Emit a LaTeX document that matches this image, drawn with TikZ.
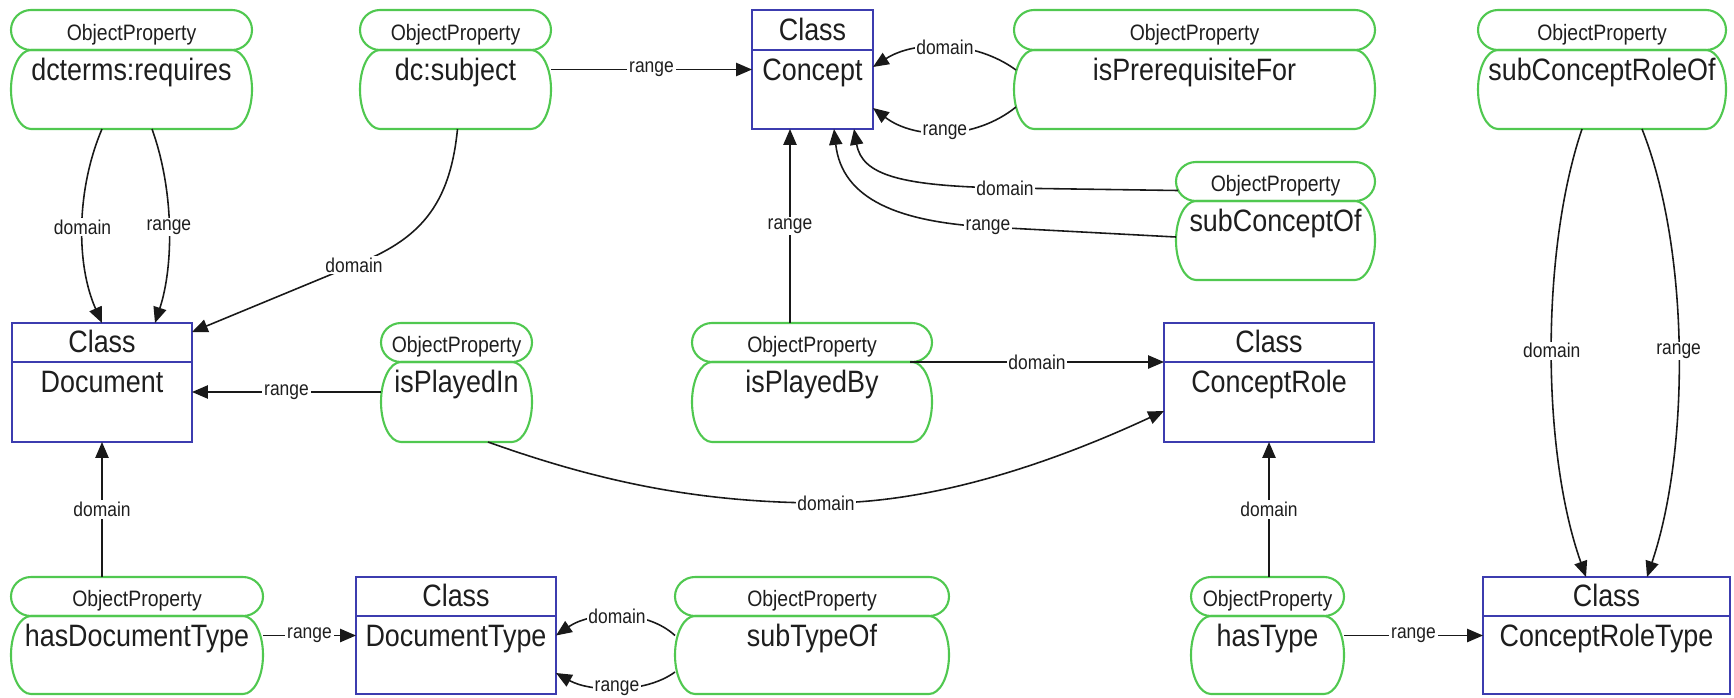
\documentclass[tikz,border=0pt]{standalone}
\usepackage{fontspec}
\setmainfont{Liberation Sans}[FakeStretch=0.87]
\usetikzlibrary{arrows.meta,calc,fit}

\definecolor{pgreen}{RGB}{80,200,80}
\definecolor{cblue}{RGB}{60,60,175}
\definecolor{txt}{RGB}{30,30,30}

\newcommand\fBig{\fontsize{17.6}{20}\selectfont}
\newcommand\fSmall{\fontsize{12.7}{14}\selectfont}
\newcommand\fLbl{\fontsize{11.4}{13}\selectfont}
\newcommand\pillrx{0.4cm}

\tikzset{
  classbox/.style={draw=cblue, line width=1.2pt, fill=white, inner sep=0pt, outer sep=0pt},
  divider/.style={draw=cblue, line width=1.2pt},
  pillbox/.style={inner sep=0pt, outer sep=0pt},
  pillline/.style={draw=pgreen, line width=1.2pt},
  bigtxt/.style={font=\fBig, text=txt, inner sep=0pt, anchor=base},
  smalltxt/.style={font=\fSmall, text=txt, inner sep=0pt, anchor=base},
  lbl/.style={font=\fLbl, text=txt, fill=white, inner sep=1pt},
  conn/.style={draw=black!90, line width=0.9pt, -{Triangle[length=9pt,width=7.5pt]}},
}

% stadium outline with elliptic ends around a node
\newcommand\drawpill[1]{%
  \draw[pillline] let \p1=(#1.north east), \p2=(#1.south west), \n1={0.5*(\y1-\y2)} in
    (\x1-\pillrx,\y1) arc[start angle=90, end angle=-90, x radius=\pillrx, y radius={\n1*1pt}]
    -- (\x2+\pillrx,\y2) arc[start angle=270, end angle=90, x radius=\pillrx, y radius={\n1*1pt}] -- cycle;}

% object property: name, x1, x2, top, split, bottom, text
\newcommand\propnode[7]{%
  \node[pillbox, fit={(#2,#4) (#3,#5)}] (#1h) {};
  \node[pillbox, fit={(#2,#5) (#3,#6)}] (#1) {};
  \drawpill{#1h}
  \drawpill{#1}
  \node[smalltxt] (#1ht) at ({(#2+#3)/2},{#5-10}) {ObjectProperty};
  \node[bigtxt] (#1t) at ({(#2+#3)/2},{#5+30}) {#7};
}

% class: name, x1, x2, top, split, bottom, text
\newcommand\classnode[7]{%
  \node[classbox, fit={(#2,#4) (#3,#6)}] (#1) {};
  \draw[divider] (#2,#5) -- (#3,#5);
  \node[bigtxt] (#1h) at ({(#2+#3)/2},{#5-10}) {Class};
  \node[bigtxt] (#1t) at ({(#2+#3)/2},{#5+30}) {#7};
}

\begin{document}
\begin{tikzpicture}[x=0.02cm, y=-0.02cm]
\useasboundingbox (0,0) rectangle (1734,697);

% classes
\classnode{concept}{752}{873}{10}{50}{129}{Concept}
\classnode{doc}{12}{192}{323}{362}{442}{Document}
\classnode{crole}{1164}{1374}{323}{362}{442}{ConceptRole}
\classnode{dtype}{356}{556}{577}{616}{694}{DocumentType}
\classnode{crt}{1483}{1730}{577}{616}{694}{ConceptRoleType}

% object properties
\propnode{req}{11}{252}{10}{50}{129}{dcterms:requires}
\propnode{subj}{360}{551}{10}{50}{129}{dc:subject}
\propnode{prereq}{1014}{1375}{10}{50}{129}{isPrerequisiteFor}
\propnode{scro}{1478}{1726}{10}{50}{129}{subConceptRoleOf}
\propnode{subco}{1176}{1375}{162}{201}{280}{subConceptOf}
\propnode{playin}{381}{532}{323}{362}{442}{isPlayedIn}
\propnode{playby}{692}{932}{323}{362}{442}{isPlayedBy}
\propnode{hdt}{11}{263}{577}{616}{694}{hasDocumentType}
\propnode{subt}{675}{949}{577}{616}{694}{subTypeOf}
\propnode{hast}{1191}{1344}{577}{616}{694}{hasType}

% domain / range connectors
\draw[conn] (subj.east |- concept.center) -- (concept.west) node[lbl,midway]{range};
\draw[conn] ($(req.south)+(-29.5,0)$) .. controls (76,190) and (76,265) .. (doc.north) node[lbl,midway]{domain};
\draw[conn] ($(req.south)+(20.5,0)$) .. controls (174,190) and (174,265) .. ($(doc.north)+(53,0)$) node[lbl,midway]{range};
\draw[conn] ($(subj.south)+(2,0)$) .. controls (450,205) and (420,240) .. (354,265) node[lbl]{domain} -- ($(doc.north east)+(0,9)$);
\draw[conn] ($(playin.west)+(0,-10)$) -- ($(doc.east)+(0,9.5)$) node[lbl,midway]{range};
\draw[conn] (doc.south |- hdth.north) -- (doc.south) node[lbl,midway]{domain};
\draw[conn] (hdt.east |- dtype.west) -- (dtype.west) node[lbl,midway]{range};
\draw[conn] (subt.west |- dtype.west) .. controls (645,608) and (590,612) .. (dtype.east) node[lbl,midway]{domain};
\draw[conn] ($(subt.west)+(0,17)$) .. controls (645,694) and (590,692) .. ($(dtype.east)+(0,37.5)$) node[lbl,midway]{range};
\draw[conn] ($(prereq.west)+(2,-19.5)$) .. controls (975,40) and (915,40) .. ($(concept.east)+(0,-2.5)$) node[lbl,midway]{domain};
\draw[conn] ($(prereq.west)+(2,17.5)$) .. controls (975,140) and (915,140) .. ($(concept.east)+(0,38.5)$) node[lbl,midway]{range};
\draw[conn] ($(subcoh.west)+(2,9)$) -- (1005,188) node[lbl]{domain} .. controls (900,186) and (862,175) .. ($(concept.south)+(41.5,0)$);
\draw[conn] ($(subco.west)+(0,-3.5)$) -- (988,227) node[lbl]{range} .. controls (900,222) and (842,200) .. ($(concept.south)+(21.5,0)$);
\draw[conn] ($(playbyh.north)+(-22,0)$) -- ($(concept.south)+(-22.5,0)$) node[lbl,midway]{range};
\draw[conn] ($(playby.north east)+(-22,0)$) -- ($(crole.west)+(0,-20.5)$) node[lbl,midway]{domain};
\draw[conn] ($(playin.south)+(31.5,0)$) .. controls (600,482) and (700,503) .. (826,503) node[lbl]{domain} .. controls (950,503) and (1080,450) .. ($(crole.west)+(0,28.5)$);
\draw[conn] (crole.south |- hasth.north) -- (crole.south) node[lbl,midway]{domain};
\draw[conn] (hast.east |- crt.west) -- (crt.west) node[lbl,midway]{range};
\draw[conn] ($(scro.south)+(-20,0)$) .. controls (1541,250) and (1541,450) .. ($(crt.north)+(-20.5,0)$) node[lbl,midway]{domain};
\draw[conn] ($(scro.south)+(40,0)$) .. controls (1690,250) and (1690,450) .. ($(crt.north)+(40.5,0)$) node[lbl,midway]{range};
\end{tikzpicture}
\end{document}
